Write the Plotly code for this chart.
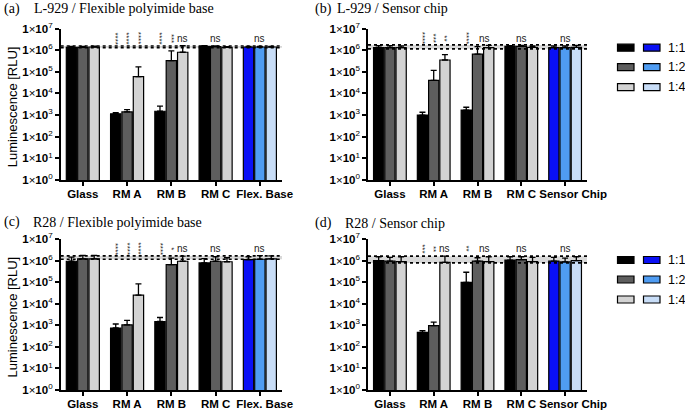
import plotly.graph_objects as go

# ---------------- data ----------------
cats_flex = ["Glass", "RM A", "RM B", "RM C", "Flex. Base"]
cats_chip = ["Glass", "RM A", "RM B", "RM C", "Sensor Chip"]
dilutions = ["1:1", "1:2", "1:4"]

# (a) L-929 / Flexible polyimide base  (mean, upper SD)
a_11 = [1.35e6, 1.15e3, 1.5e3, 1.5e6, 1.4e6]
a_11_sd = [1.5e5, 1.5e2, 1.1e3, 1.0e5, 1.0e5]
a_12 = [1.35e6, 1.4e3, 3.3e5, 1.45e6, 1.4e6]
a_12_sd = [1.5e5, 4.0e2, 6.0e5, 1.0e5, 1.0e5]
a_14 = [1.4e6, 6.0e4, 8.0e5, 1.35e6, 1.4e6]
a_14_sd = [1.2e5, 1.1e5, 8.0e5, 1.0e5, 1.0e5]

# (b) L-929 / Sensor chip
b_11 = [1.3e6, 1.0e3, 1.7e3, 1.5e6, 1.3e6]
b_11_sd = [3.0e5, 3.5e2, 6.0e2, 1.0e5, 2.5e5]
b_12 = [1.3e6, 4.0e4, 6.5e5, 1.5e6, 1.3e6]
b_12_sd = [3.0e5, 7.5e4, 8.0e5, 1.5e5, 2.5e5]
b_14 = [1.3e6, 3.5e5, 1.3e6, 1.35e6, 1.35e6]
b_14_sd = [2.5e5, 2.7e5, 3.5e5, 2.0e5, 3.0e5]

# (c) R28 / Flexible polyimide base
c_11 = [9.3e5, 7.5e2, 1.5e3, 7.8e5, 1.1e6]
c_11_sd = [5.0e5, 4.0e2, 8.0e2, 4.6e5, 4.0e5]
c_12 = [1.2e6, 1.05e3, 6.5e5, 9.3e5, 1.15e6]
c_12_sd = [5.5e5, 6.5e2, 6.5e5, 5.7e5, 5.5e5]
c_14 = [1.2e6, 2.5e4, 9.3e5, 8.8e5, 1.2e6]
c_14_sd = [5.5e5, 5.8e4, 6.7e5, 4.7e5, 4.5e5]

# (d) R28 / Sensor chip
d_11 = [1.0e6, 4.7e2, 9.8e4, 1.05e6, 9.5e5]
d_11_sd = [5.0e5, 9.0e1, 1.9e5, 4.5e5, 4.5e5]
d_12 = [9.5e5, 9.6e2, 9.5e5, 1.1e6, 8.7e5]
d_12_sd = [4.5e5, 4.4e2, 4.0e5, 4.0e5, 4.3e5]
d_14 = [9.0e5, 8.3e5, 9.0e5, 9.0e5, 1.0e6]
d_14_sd = [6.0e5, 7.7e5, 6.0e5, 5.0e5, 5.0e5]

# reference (control) range bands
band_a = [1.3e6, 1.55e6]
band_b = [1.15e6, 1.75e6]
band_c = [1.15e6, 1.65e6]
band_d = [7.8e5, 1.6e6]

# significance labels: (category index, bar index or None = group centre, text)
sig_a = [(1, 0, "****"), (1, 1, "****"), (1, 2, "****"), (2, 0, "****"), (2, 1, "***"),
         (2, 2, "ns"), (3, None, "ns"), (4, None, "ns")]
sig_b = [(1, 0, "****"), (1, 1, "***"), (1, 2, "**"), (2, 0, "****"), (2, 1.6, "ns"),
         (3, None, "ns"), (4, None, "ns")]
sig_c = [(1, 0, "****"), (1, 1, "****"), (1, 2, "****"), (2, 0, "****"), (2, 1, "*"),
         (2, 2, "ns"), (3, None, "ns"), (4, None, "ns")]
sig_d = [(1, 0, "***"), (1, 1, "**"), (1, 2, "ns"), (2, 0, "**"), (2, 1.6, "ns"),
         (3, None, "ns"), (4, None, "ns")]

y_tick_exp = [0, 1, 2, 3, 4, 5, 6, 7]

# ---------------- styling ----------------
W, H = 685, 411
grey_cols = ["#000000", "#5e5e5e", "#d3d3d3"]
blue_cols = ["#0a10f5", "#4f9cf2", "#c8ddf7"]
SANS = "Liberation Sans"
SERIF = "Liberation Serif"
BARGAP = 0.23
SLOT = (1 - BARGAP) / 3
NB = "\u00a0"


def px_x(p):
    return p / W


def px_y(p):
    return 1 - p / H


def tick_labels(cats, pad):
    out = []
    for i, c in enumerate(cats):
        if i == len(cats) - 1:
            out.append(NB * pad + f"<b>{c}</b>")
        else:
            out.append(f"<b>{c}</b>")
    return out


TOP = (180, 28.5)
BOT = (390, 239)
panels = [
    dict(cats=cats_flex, means=[a_11, a_12, a_14], sds=[a_11_sd, a_12_sd, a_14_sd], band=band_a,
         sig=sig_a, xd=[px_x(60.7), px_x(282)], yd=[px_y(TOP[0]), px_y(TOP[1])], ytitle=True, pad=3),
    dict(cats=cats_chip, means=[b_11, b_12, b_14], sds=[b_11_sd, b_12_sd, b_14_sd], band=band_b,
         sig=sig_b, xd=[px_x(368), px_x(587)], yd=[px_y(TOP[0]), px_y(TOP[1])], ytitle=False, pad=5),
    dict(cats=cats_flex, means=[c_11, c_12, c_14], sds=[c_11_sd, c_12_sd, c_14_sd], band=band_c,
         sig=sig_c, xd=[px_x(60.7), px_x(282)], yd=[px_y(BOT[0]), px_y(BOT[1])], ytitle=True, pad=3),
    dict(cats=cats_chip, means=[d_11, d_12, d_14], sds=[d_11_sd, d_12_sd, d_14_sd], band=band_d,
         sig=sig_d, xd=[px_x(368), px_x(587)], yd=[px_y(BOT[0]), px_y(BOT[1])], ytitle=False, pad=5),
]

fig = go.Figure()
shapes = []
annotations = []
layout_axes = {}

for pi, p in enumerate(panels):
    n = pi + 1
    xa = "x" if n == 1 else f"x{n}"
    ya = "y" if n == 1 else f"y{n}"
    for k in range(3):
        cols = [grey_cols[k]] * (len(p["cats"]) - 1) + [blue_cols[k]]
        fig.add_trace(go.Bar(
            x=p["cats"], y=p["means"][k], name=dilutions[k],
            marker=dict(color=cols, line=dict(color="black", width=1.2)),
            error_y=dict(type="data", symmetric=False, array=p["sds"][k],
                         arrayminus=[0] * len(p["cats"]), color="black",
                         thickness=1.3, width=3),
            xaxis=xa, yaxis=ya, showlegend=False, hoverinfo="skip",
        ))
    xkey = "xaxis" if n == 1 else f"xaxis{n}"
    ykey = "yaxis" if n == 1 else f"yaxis{n}"
    layout_axes[xkey] = dict(
        domain=p["xd"], anchor=ya, type="category", range=[-0.5, 4.5],
        automargin=False, tickangle=0, ticklabelstandoff=-2,
        showline=True, linecolor="black", linewidth=1.5, ticks="outside",
        ticklen=4, tickwidth=1.5, tickcolor="black", showgrid=False,
        tickfont=dict(family=SANS, size=11.5, color="black"),
        tickvals=p["cats"], ticktext=tick_labels(p["cats"], p["pad"]),
    )
    layout_axes[ykey] = dict(
        domain=p["yd"], anchor=xa, type="log", range=[0, 7],
        automargin=False,
        showline=True, linecolor="black", linewidth=1.5, ticks="outside",
        ticklen=4, tickwidth=1.5, tickcolor="black", showgrid=False,
        zeroline=False,
        tickvals=[10 ** e for e in y_tick_exp],
        ticktext=[f"<b>1</b>×<b>10</b><sup>{e}</sup>" for e in y_tick_exp],
        tickfont=dict(family=SANS, size=11.5, color="black"),
    )
    # reference band + dotted boundaries
    shapes.append(dict(type="rect", xref=f"{xa} domain", yref=ya, x0=0, x1=1,
                       y0=p["band"][0], y1=p["band"][1],
                       fillcolor="rgba(190,190,190,0.6)", line=dict(width=0), layer="below"))
    for yv in p["band"]:
        shapes.append(dict(type="line", xref=f"{xa} domain", yref=ya, x0=0, x1=1,
                           y0=yv, y1=yv, line=dict(color="black", width=1.6, dash="dot"),
                           layer="above"))
    # significance labels
    for ci, bi, txt in p["sig"]:
        xpos = ci if bi is None else ci + (bi - 1) * SLOT
        is_star = txt.startswith("*")
        annotations.append(dict(
            x=xpos, y=6.55, xref=xa, yref=ya, text=txt, showarrow=False,
            textangle=90 if is_star else 0,
            font=dict(family=SANS, size=8 if is_star else 10, color="#222222"),
            xanchor="center", yanchor="middle",
        ))
    if p["ytitle"]:
        ymid = (p["yd"][0] + p["yd"][1]) / 2 - 0.006
        annotations.append(dict(
            x=px_x(12.5), y=ymid, xref="paper", yref="paper", text="Luminescence [RLU]",
            textangle=-90, showarrow=False, font=dict(family=SANS, size=13, color="black"),
            xanchor="center", yanchor="middle"))

# panel titles
titles = [
    ("(a)", 2, "L-929 / Flexible polyimide base", 31.5, 8.5),
    ("(b)", 313, "L-929 / Sensor chip", 334.5, 8.5),
    ("(c)", 2, "R28 / Flexible polyimide base", 30.5, 222),
    ("(d)", 313, "R28 / Sensor chip", 343, 223),
]
for lab, lx, txt, tx, ty in titles:
    for s, xx in ((lab, lx), (txt, tx)):
        annotations.append(dict(x=px_x(xx), y=px_y(ty), xref="paper", yref="paper", text=s,
                                showarrow=False, xanchor="left", yanchor="middle",
                                font=dict(family=SERIF, size=14, color="black")))

# legends (two, to the right of panels b and d)
for rows in ([47.7, 67.2, 87.2], [260, 279.5, 299.5]):
    for k, yc in enumerate(rows):
        shapes.append(dict(type="rect", xref="paper", yref="paper",
                           x0=px_x(617.5), x1=px_x(634), y0=px_y(yc + 3.5), y1=px_y(yc - 3.5),
                           fillcolor=grey_cols[k], line=dict(color="black", width=1.2)))
        shapes.append(dict(type="rect", xref="paper", yref="paper",
                           x0=px_x(643.5), x1=px_x(660), y0=px_y(yc + 3.5), y1=px_y(yc - 3.5),
                           fillcolor=blue_cols[k], line=dict(color="black", width=1.2)))
        annotations.append(dict(x=px_x(666), y=px_y(yc), xref="paper", yref="paper",
                                text=dilutions[k], showarrow=False, xanchor="left",
                                yanchor="middle",
                                font=dict(family=SANS, size=12.5, color="black")))

fig.update_layout(
    width=W, height=H, margin=dict(l=0, r=0, t=0, b=0),
    paper_bgcolor="white", plot_bgcolor="white",
    barmode="group", bargap=BARGAP, bargroupgap=0.09,
    shapes=shapes, annotations=annotations, **layout_axes,
)

fig.write_html("out.html", config={"displayModeBar": False},
               post_script="document.body.style.margin='0';document.body.style.overflow='hidden';")
